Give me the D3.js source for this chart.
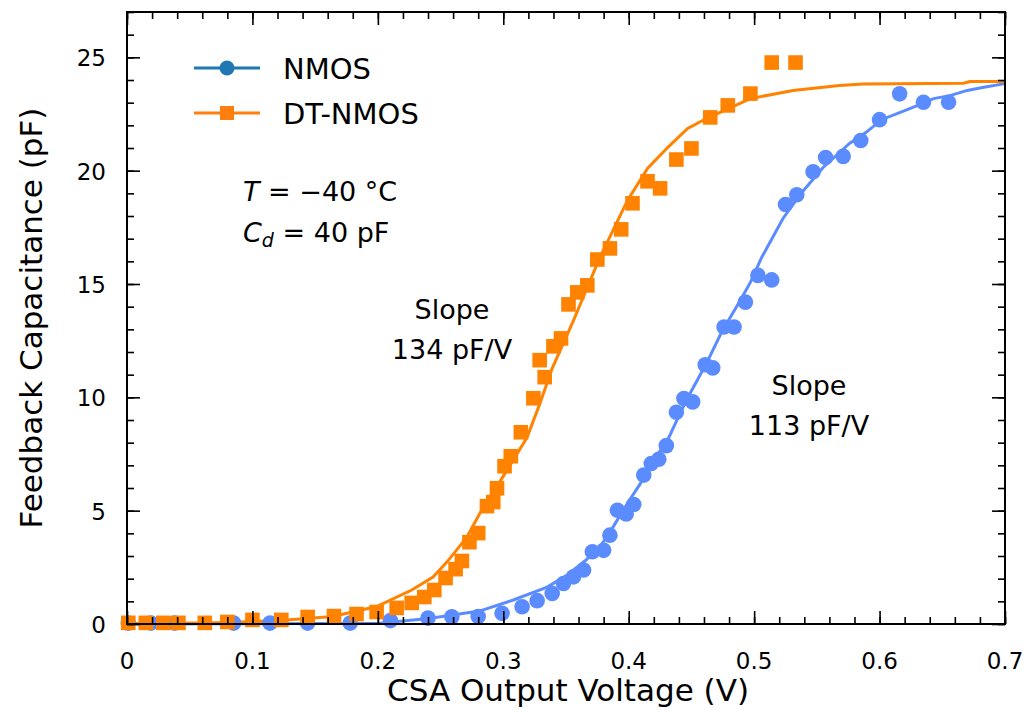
<!DOCTYPE html>
<meta charset="utf-8">
<style>
body { margin: 0; background: #fff; }
text { font-family: "DejaVu Sans", sans-serif; fill: #000; }
.tick-label { font-size: 23px; }
.axis-title { font-size: 31px; }
.legend text { font-size: 29px; }
.note { font-size: 27px; }
</style>
<svg width="1026" height="710"></svg>
<script src="https://d3js.org/d3.v7.min.js"></script>
<script>

// measured points, NMOS (V, pF)
var nmosV = [0.001, 0.019, 0.038, 0.085, 0.114, 0.144, 0.178, 0.210, 0.240, 0.259, 0.280, 0.299,
  0.315, 0.327, 0.339, 0.348, 0.356, 0.364, 0.371, 0.380, 0.385, 0.391, 0.398, 0.404, 0.412,
  0.418, 0.424, 0.430, 0.438, 0.444, 0.451, 0.461, 0.467, 0.476, 0.484, 0.493, 0.503, 0.514,
  0.525, 0.534, 0.547, 0.557, 0.571, 0.585, 0.600, 0.616, 0.635, 0.655];
var nmosC = [0.04, 0.04, 0.04, 0.04, 0.04, 0.04, 0.04, 0.15, 0.26, 0.32, 0.33, 0.47,
  0.76, 1.03, 1.35, 1.79, 2.08, 2.38, 3.19, 3.25, 3.92, 5.02, 4.85, 5.27, 6.57,
  7.08, 7.27, 7.87, 9.34, 9.95, 9.80, 11.44, 11.30, 13.10, 13.10, 14.20, 15.38, 15.18,
  18.51, 18.94, 19.95, 20.58, 20.63, 21.33, 22.25, 23.39, 23.02, 23.02];

// measured points, DT-NMOS
var dtV = [0.001, 0.015, 0.029, 0.041, 0.062, 0.080, 0.100, 0.123, 0.144, 0.165, 0.183, 0.199,
  0.215, 0.227, 0.237, 0.245, 0.254, 0.262, 0.267, 0.273, 0.280, 0.287, 0.292, 0.295, 0.301,
  0.306, 0.314, 0.324, 0.329, 0.333, 0.340, 0.346, 0.352, 0.359, 0.367, 0.375, 0.385, 0.394,
  0.403, 0.415, 0.425, 0.438, 0.450, 0.465, 0.479, 0.497, 0.514, 0.533];
var dtC = [0.05, 0.05, 0.05, 0.05, 0.05, 0.09, 0.18, 0.18, 0.31, 0.35, 0.44, 0.53,
  0.71, 0.93, 1.19, 1.50, 2.03, 2.42, 2.78, 3.61, 4.01, 5.20, 5.38, 5.99, 6.96,
  7.40, 8.46, 9.96, 11.64, 10.89, 12.25, 12.60, 14.10, 14.63, 14.94, 16.08, 16.57, 17.41,
  18.56, 19.53, 19.22, 20.49, 20.98, 22.35, 22.88, 23.40, 24.77, 24.77];

// fitted curves
var nmosFitV = [0, 0.098, 0.202, 0.242, 0.281, 0.308, 0.335, 0.351, 0.365, 0.377, 0.387, 0.399,
  0.409, 0.417, 0.431, 0.441, 0.449, 0.462, 0.474, 0.489, 0.497, 0.506, 0.523, 0.538, 0.555,
  0.576, 0.589, 0.602, 0.616, 0.630, 0.643, 0.656, 0.670, 0.682, 0.700];
var nmosFitC = [0, 0.01, 0.03, 0.25, 0.57, 1.06, 1.63, 2.16, 2.78, 3.39, 4.23, 5.33,
  6.17, 7.01, 8.11, 9.30, 10.18, 11.50, 12.87, 14.28, 15.07, 16.17, 17.89, 19.04, 20.14,
  21.20, 21.68, 22.26, 22.56, 22.87, 23.18, 23.31, 23.54, 23.67, 23.84];

var dtFitV = [0, 0.058, 0.080, 0.122, 0.164, 0.199, 0.227, 0.244, 0.255, 0.264, 0.271, 0.281,
  0.303, 0.319, 0.329, 0.339, 0.356, 0.377, 0.399, 0.415, 0.431, 0.447, 0.462, 0.497, 0.531,
  0.568, 0.587, 0.667, 0.672, 0.700];
var dtFitC = [0.02, 0.04, 0.07, 0.15, 0.33, 0.77, 1.50, 2.07, 2.73, 3.35, 3.83, 4.85,
  6.79, 8.24, 9.70, 11.28, 13.40, 16.17, 18.69, 20.10, 21.02, 21.86, 22.30, 23.18, 23.54,
  23.76, 23.82, 23.86, 23.93, 23.93];

var xTicks = [0, 0.1, 0.2, 0.3, 0.4, 0.5, 0.6, 0.7];
var yTicks = [0, 5, 10, 15, 20, 25];

var blue = "#5b8cff", orange = "#ff8200";

var svg = d3.select("svg"),
    mLeft = 127, mRight = 1005, mTop = 12, mBottom = 624;

var x = d3.scaleLinear().domain([0, 0.7]).range([mLeft, mRight]);
var y = d3.scaleLinear().domain([0, 27]).range([mBottom, mTop]);

var zip = function(a, b) { return a.map(function(v, i) { return [v, b[i]]; }); };

var line = d3.line()
    .x(function(d) { return x(d[0]); })
    .y(function(d) { return y(d[1]); });

var plot = svg.append("g");

// fit lines
plot.append("path").datum(zip(nmosFitV, nmosFitC))
    .attr("d", line).attr("fill", "none").attr("stroke", blue).attr("stroke-width", 3);
plot.append("path").datum(zip(dtFitV, dtFitC))
    .attr("d", line).attr("fill", "none").attr("stroke", orange).attr("stroke-width", 3);

// markers
plot.selectAll(".nm").data(zip(nmosV, nmosC)).enter().append("circle")
    .attr("cx", function(d) { return x(d[0]); })
    .attr("cy", function(d) { return y(d[1]); })
    .attr("r", 7.8).attr("fill", blue);
plot.selectAll(".dt").data(zip(dtV, dtC)).enter().append("rect")
    .attr("x", function(d) { return x(d[0]) - 7.3; })
    .attr("y", function(d) { return y(d[1]) - 7.3; })
    .attr("width", 14.6).attr("height", 14.6).attr("fill", orange);

// axes, ticks inward on all four sides
var minorX = d3.range(0, 0.7001, 0.02), minorY = d3.range(0, 27.001, 1);
function tickAxis(axisFn, scale, major, minor) {
  var g = svg.append("g");
  g.call(axisFn(scale).tickValues(minor).tickSize(-7).tickFormat(""));
  g.append("g").call(axisFn(scale).tickValues(major).tickSize(-13).tickFormat(""));
  g.selectAll(".domain").remove();
  g.selectAll("line").attr("stroke", "#000").attr("stroke-width", 1.6);
  return g;
}
tickAxis(d3.axisBottom, x, xTicks, minorX).attr("transform", "translate(0," + mBottom + ")");
tickAxis(d3.axisTop, x, xTicks, minorX).attr("transform", "translate(0," + mTop + ")");
tickAxis(d3.axisLeft, y, yTicks, minorY).attr("transform", "translate(" + mLeft + ",0)");
tickAxis(d3.axisRight, y, yTicks, minorY).attr("transform", "translate(" + mRight + ",0)");

svg.append("rect")
    .attr("x", mLeft).attr("y", mTop)
    .attr("width", mRight - mLeft).attr("height", mBottom - mTop)
    .attr("fill", "none").attr("stroke", "#000").attr("stroke-width", 2);

svg.selectAll(".xl").data(xTicks).enter().append("text")
    .attr("class", "tick-label")
    .attr("x", function(d) { return x(d); }).attr("y", 669)
    .attr("text-anchor", "middle")
    .text(function(d) { return d === 0 ? "0" : d3.format(".1f")(d); });

svg.selectAll(".yl").data(yTicks).enter().append("text")
    .attr("class", "tick-label")
    .attr("x", 106).attr("y", function(d) { return y(d) + 9; })
    .attr("text-anchor", "end")
    .text(function(d) { return d; });

svg.append("text").attr("class", "axis-title")
    .attr("x", 568).attr("y", 701)
    .attr("text-anchor", "middle")
    .text("CSA Output Voltage (V)");

svg.append("text").attr("class", "axis-title")
    .attr("transform", "translate(42,318) rotate(-90)")
    .attr("text-anchor", "middle")
    .attr("font-size", "32.5px")
    .text("Feedback Capacitance (pF)");

// legend
var legend = svg.append("g").attr("class", "legend");
legend.append("line").attr("x1", 194).attr("x2", 260).attr("y1", 68).attr("y2", 68)
    .attr("stroke", "#1f77b4").attr("stroke-width", 3);
legend.append("circle").attr("cx", 227).attr("cy", 68).attr("r", 7.5).attr("fill", "#1f77b4");
legend.append("text").attr("x", 283).attr("y", 79).text("NMOS");
legend.append("line").attr("x1", 194).attr("x2", 260).attr("y1", 113).attr("y2", 113)
    .attr("stroke", "#ff7f0e").attr("stroke-width", 3);
legend.append("rect").attr("x", 220).attr("y", 106).attr("width", 14).attr("height", 14)
    .attr("fill", "#ff7f0e");
legend.append("text").attr("x", 283).attr("y", 124).text("DT-NMOS");

// annotations
var t1 = svg.append("text").attr("class", "note").attr("x", 243).attr("y", 201);
t1.append("tspan").attr("font-style", "italic").text("T");
t1.append("tspan").text(" = \u221240 \u00b0C");

var t2 = svg.append("text").attr("class", "note").attr("x", 243).attr("y", 242);
t2.append("tspan").attr("font-style", "italic").text("C");
t2.append("tspan").attr("font-style", "italic").attr("font-size", "19px").attr("dy", 5).text("d");
t2.append("tspan").attr("dy", -5).text(" = 40 pF");

svg.append("text").attr("class", "note").attr("x", 452).attr("y", 319)
    .attr("text-anchor", "middle").text("Slope");
svg.append("text").attr("class", "note").attr("x", 452).attr("y", 359)
    .attr("text-anchor", "middle").text("134 pF/V");
svg.append("text").attr("class", "note").attr("x", 809).attr("y", 395)
    .attr("text-anchor", "middle").text("Slope");
svg.append("text").attr("class", "note").attr("x", 809).attr("y", 435)
    .attr("text-anchor", "middle").text("113 pF/V");

</script>
